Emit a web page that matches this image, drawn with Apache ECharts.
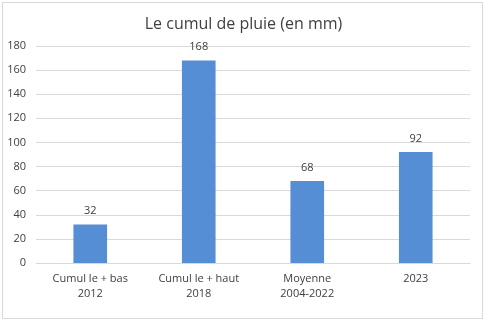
<!DOCTYPE html>
<html>
<head>
<meta charset="utf-8">
<script src="https://cdn.jsdelivr.net/npm/echarts@6/dist/echarts.min.js"></script>
<style>
html,body{margin:0;padding:0;background:#fff;}
#frame{position:absolute;left:2px;top:2px;width:481px;height:317px;border:1px solid #d9d9d9;box-sizing:border-box;}
#chart{position:absolute;left:0;top:0;width:487px;height:323px;}
</style>
</head>
<body>
<div id="frame"></div>
<div id="chart"></div>
<script>
// Rainfall totals (mm)
const categories = ['Cumul le + bas\n2012', 'Cumul le + haut\n2018', 'Moyenne\n2004-2022', '2023'];
const rainfall = [32, 168, 68, 92];
const yTicks = { min: 0, max: 180, interval: 20 };

const chart = echarts.init(document.getElementById('chart'), null, { renderer: 'canvas' });
const font = '"Open Sans", "Noto Sans", sans-serif';
chart.setOption({
  animation: false,
  title: {
    text: 'Le cumul de pluie (en mm)',
    left: 'center',
    top: 11,
    textStyle: { fontFamily: font, fontSize: 16, fontWeight: 'normal', color: '#404040' }
  },
  grid: { left: 36, right: 17, top: 46, bottom: 60, containLabel: false },
  xAxis: {
    type: 'category',
    data: categories,
    axisLine: { lineStyle: { color: '#d9d9d9' } },
    axisTick: { show: false },
    axisLabel: { color: '#404040', fontFamily: font, fontSize: 11, lineHeight: 15, margin: 8 }
  },
  yAxis: {
    type: 'value',
    min: yTicks.min,
    max: yTicks.max,
    interval: yTicks.interval,
    axisLine: { show: false },
    axisTick: { show: false },
    splitLine: { lineStyle: { color: '#d9d9d9' } },
    axisLabel: { color: '#404040', fontFamily: font, fontSize: 11, margin: 10 }
  },
  series: [{
    type: 'bar',
    data: rainfall,
    barWidth: '31%',
    itemStyle: { color: '#558ED5' },
    label: { show: true, position: 'top', distance: 8, color: '#404040', fontFamily: font, fontSize: 11 }
  }]
});
</script>
</body>
</html>
